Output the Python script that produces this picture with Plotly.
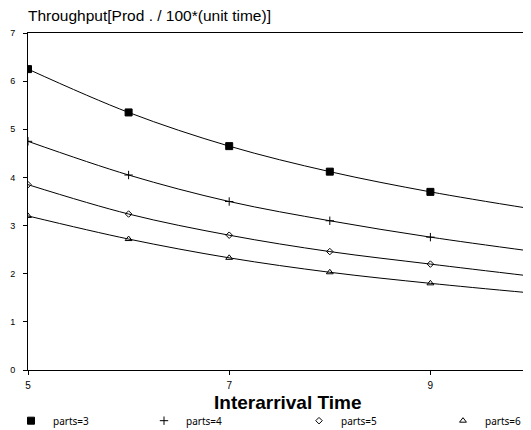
import plotly.graph_objects as go

# interarrival time values
x_vals = [5, 6, 7, 8, 9, 10]

# throughput for each number of parts
parts_3 = [6.25, 5.35, 4.65, 4.12, 3.70, 3.35]
parts_4 = [4.75, 4.05, 3.50, 3.10, 2.76, 2.47]
parts_5 = [3.85, 3.24, 2.80, 2.46, 2.20, 1.95]
parts_6 = [3.20, 2.72, 2.33, 2.03, 1.80, 1.60]

series_names = ["parts=3", "parts=4", "parts=5", "parts=6"]
x_ticks = [5, 7, 9]
y_ticks = [0, 1, 2, 3, 4, 5, 6, 7]

W, H = 531, 430
OFF = 8  # the page body margin shifts the figure by this much
PLOT_TOP, PLOT_BOTTOM, PLOT_LEFT = 33 - OFF, 370 - OFF, 28 - OFF

symbols = ["square", "cross-thin-open", "diamond-open", "triangle-up-open"]
sizes = [7, 6, 5, 6]
legend_ids = ["legend", "legend2", "legend3", "legend4"]
legend_x = [1, 134, 289, 433]  # left edge of each legend box, px in figure

fig = go.Figure()

for name, ys, sym, sz, lg in zip(series_names, [parts_3, parts_4, parts_5, parts_6],
                                 symbols, sizes, legend_ids):
    # smooth curve through the points
    fig.add_trace(go.Scatter(
        x=x_vals, y=ys, mode="lines", line=dict(color="black", width=1, shape="spline"),
        showlegend=False, hoverinfo="skip"
    ))
    # markers only, these carry the legend entry
    fig.add_trace(go.Scatter(
        x=x_vals, y=ys, mode="markers", name=name, legend=lg,
        marker=dict(symbol=sym, size=sz, color="black", line=dict(color="black", width=1))
    ))

legend_style = dict(orientation="h", xref="container", yref="container", xanchor="left",
                    y=0.074, yanchor="top", itemwidth=34, bgcolor="rgba(0,0,0,0)",
                    font=dict(size=10, family="Noto Sans"))
layout_legends = {}
for lg, lx in zip(legend_ids, legend_x):
    layout_legends[lg] = dict(legend_style, x=lx / W)

plot_h = PLOT_BOTTOM - PLOT_TOP
plot_w = W - OFF - PLOT_LEFT

fig.update_layout(
    width=W, height=H,
    margin=dict(l=PLOT_LEFT, r=OFF, t=PLOT_TOP, b=H - PLOT_BOTTOM, autoexpand=False),
    paper_bgcolor="white", plot_bgcolor="white",
    font=dict(family="Liberation Sans, Arial", color="black", size=10),
    title=dict(text="Throughput[Prod . / 100*(unit time)]", xref="container",
               x=PLOT_LEFT / W, xanchor="left",
               yref="container", y=1 - (16 - OFF) / H, yanchor="middle",
               font=dict(size=15.5, family="Liberation Sans, Arial")),
    **layout_legends
)

# x axis title as an annotation so it can sit exactly under the tick labels
fig.add_annotation(
    text="<b>Interarrival Time</b>", xref="paper", yref="paper",
    x=(288 - OFF - PLOT_LEFT) / plot_w, y=-(402 - 370) / plot_h,
    xanchor="center", yanchor="middle", showarrow=False,
    font=dict(size=19, family="Liberation Sans, Arial", color="black")
)

fig.update_xaxes(
    range=[5, 10], tickvals=x_ticks, showgrid=False, zeroline=False, automargin=False,
    showline=True, linecolor="black", linewidth=1, mirror=True,
    ticks="outside", ticklen=4, tickcolor="black", ticklabelstandoff=2
)
fig.update_yaxes(
    range=[0, 7], tickvals=y_ticks, showgrid=False, zeroline=False, automargin=False,
    showline=True, linecolor="black", linewidth=1, mirror=True,
    ticks="outside", ticklen=4, tickcolor="black", tickfont=dict(size=9),
    ticklabelstandoff=6
)

fig.write_html("out.html")
